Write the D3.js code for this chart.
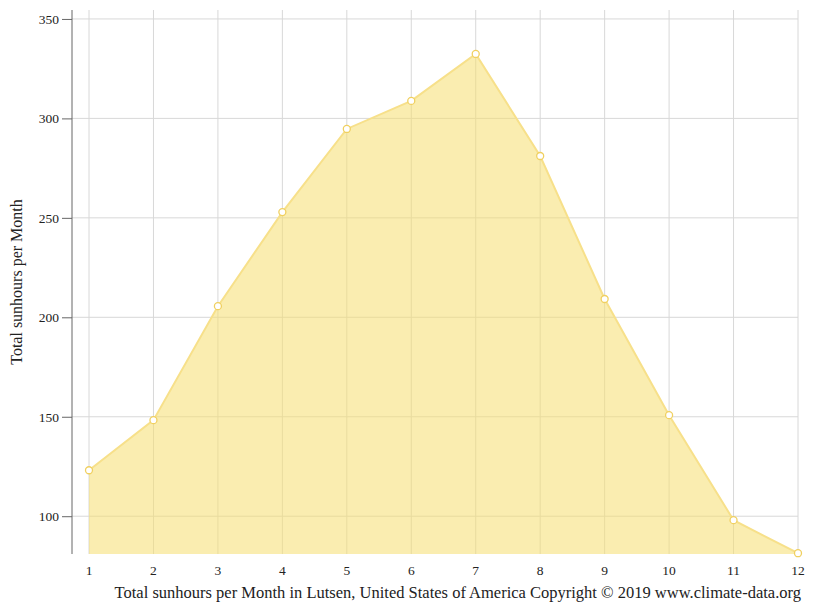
<!DOCTYPE html>
<html><head><meta charset="utf-8">
<script src="https://cdn.jsdelivr.net/npm/d3@7"></script>
<style>body{margin:0;background:#fff}text{font-family:"Liberation Serif","Times New Roman",serif}</style>
</head><body><svg id="c" width="815" height="611"></svg>
<script>
const months=[1,2,3,4,5,6,7,8,9,10,11,12];
const sunhours=[123.1,148.3,205.6,252.9,294.7,308.8,332.4,281.1,209.2,150.8,98,81.4];
const yTicks=[100,150,200,250,300,350];
const svg=d3.select("#c");
const x=d3.scaleLinear().domain([1,12]).range([89,798]);
const y=d3.scaleLinear().domain([81,354.5]).range([554,10]);
const g=svg.append("g");
g.selectAll(".vg").data(months).join("line").attr("x1",d=>x(d)).attr("x2",d=>x(d)).attr("y1",10).attr("y2",554).attr("stroke","#d8d8d8");
g.selectAll(".hg").data(yTicks).join("line").attr("x1",72).attr("x2",798).attr("y1",d=>y(d)).attr("y2",d=>y(d)).attr("stroke","#d8d8d8");
g.append("path").datum(sunhours).attr("fill","#f6df70").attr("fill-opacity",0.55)
 .attr("d",d3.area().x((d,i)=>x(months[i])).y0(y(81)).y1(d=>y(d)));
g.append("path").datum(sunhours).attr("fill","none").attr("stroke","#f7e08a").attr("stroke-width",2)
 .attr("d",d3.line().x((d,i)=>x(months[i])).y(d=>y(d)));
g.selectAll("circle").data(sunhours).join("circle").attr("cx",(d,i)=>x(months[i])).attr("cy",d=>y(d)).attr("r",3.5).attr("fill","#fff").attr("stroke","#f0d060").attr("stroke-width",1.3);
const ya=svg.append("g").attr("transform","translate(72,0)").call(d3.axisLeft(y).tickValues(yTicks).tickSize(10).tickPadding(3));
ya.select(".domain").attr("d","M0,10V554").attr("stroke","#666");
ya.selectAll(".tick line").attr("stroke","#666");
ya.selectAll("text").attr("font-size",13.5).attr("fill","#222").attr("font-family","Liberation Serif");
svg.selectAll(".xl").data(months).join("text").attr("x",d=>x(d)).attr("y",575).attr("text-anchor","middle").attr("font-size",13.5).attr("fill","#222").text(d=>d);
svg.append("text").attr("transform","translate(22,282) rotate(-90)").attr("text-anchor","middle").attr("font-size",16).attr("fill","#222").text("Total sunhours per Month");
svg.append("text").attr("x",801).attr("y",598).attr("text-anchor","end").attr("font-size",16.5).attr("fill","#222").text("Total sunhours per Month in Lutsen, United States of America Copyright © 2019 www.climate-data.org");
</script></body></html>
